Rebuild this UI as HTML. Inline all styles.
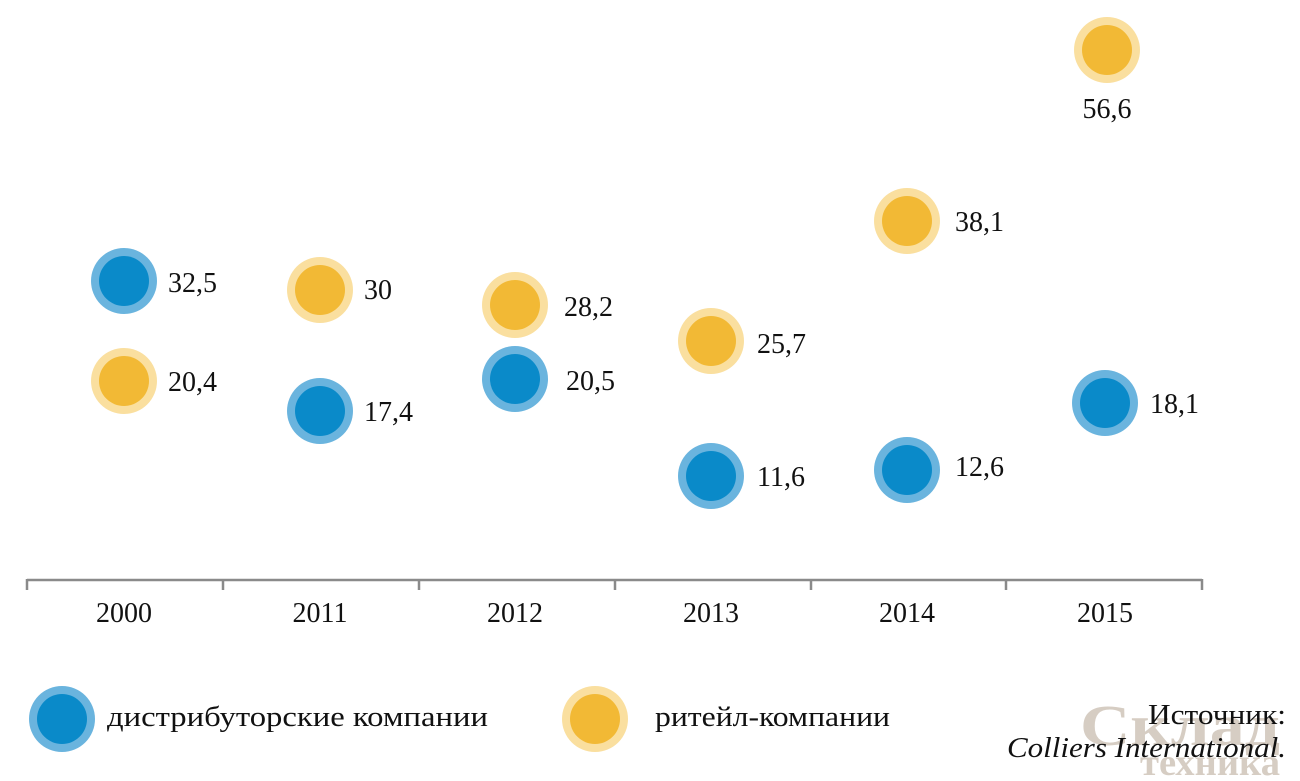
<!DOCTYPE html>
<html><head><meta charset="utf-8"><style>
html,body{margin:0;padding:0;background:#fff;}
svg text{font-family:"Liberation Serif","DejaVu Serif",serif;fill:#111;}
</style></head><body>
<svg width="1300" height="776" viewBox="0 0 1300 776" xmlns="http://www.w3.org/2000/svg">
<defs>
<g id="b"><circle r="33" fill="#6ab4de"/><circle r="25" fill="#0a8ac9"/></g>
<g id="y"><circle r="33" fill="#fadf9f"/><circle r="25" fill="#f2b935"/></g>
</defs>
<g stroke="#8a8a8a" stroke-width="2.5" fill="none">
<line x1="27" y1="580" x2="1202" y2="580"/>
<line x1="27" y1="579" x2="27" y2="590"/>
<line x1="223" y1="579" x2="223" y2="590"/>
<line x1="419" y1="579" x2="419" y2="590"/>
<line x1="615" y1="579" x2="615" y2="590"/>
<line x1="811" y1="579" x2="811" y2="590"/>
<line x1="1006" y1="579" x2="1006" y2="590"/>
<line x1="1202" y1="579" x2="1202" y2="590"/>
</g>
<g font-size="28" text-anchor="middle">
<text x="124" y="622">2000</text>
<text x="320" y="622">2011</text>
<text x="515" y="622">2012</text>
<text x="711" y="622">2013</text>
<text x="907" y="622">2014</text>
<text x="1105" y="622">2015</text>
</g>
<use href="#b" x="124" y="281"/><use href="#y" x="124" y="381"/>
<use href="#y" x="320" y="290"/><use href="#b" x="320" y="411"/>
<use href="#y" x="515" y="305"/><use href="#b" x="515" y="379"/>
<use href="#y" x="711" y="341"/><use href="#b" x="711" y="476"/>
<use href="#y" x="907" y="221"/><use href="#b" x="907" y="470"/>
<use href="#y" x="1107" y="50"/><use href="#b" x="1105" y="403"/>
<g font-size="28">
<text x="168" y="292">32,5</text>
<text x="168" y="391">20,4</text>
<text x="364" y="299">30</text>
<text x="364" y="421">17,4</text>
<text x="564" y="316">28,2</text>
<text x="566" y="390">20,5</text>
<text x="757" y="353">25,7</text>
<text x="757" y="486">11,6</text>
<text x="955" y="231">38,1</text>
<text x="955" y="476">12,6</text>
<text x="1150" y="413">18,1</text>
<text x="1107" y="118" text-anchor="middle">56,6</text>
</g>
<use href="#b" x="62" y="719"/>
<text x="107" y="726" font-size="28" textLength="381" lengthAdjust="spacingAndGlyphs">дистрибуторские компании</text>
<use href="#y" x="595" y="719"/>
<text x="655" y="726" font-size="28" textLength="235" lengthAdjust="spacingAndGlyphs">ритейл-компании</text>
<text x="1080" y="745" font-family="Liberation Sans,sans-serif" font-weight="bold" font-size="58" textLength="200" lengthAdjust="spacingAndGlyphs" style="fill:#d6cdc3">Склад</text>
<text x="1140" y="775" font-family="Liberation Sans,sans-serif" font-weight="bold" font-size="38" textLength="140" lengthAdjust="spacingAndGlyphs" style="fill:#d6cdc3">техника</text>
<text x="1148" y="724" font-size="28" textLength="138" lengthAdjust="spacingAndGlyphs">Источник:</text>
<text x="1007" y="757" font-size="28" font-style="italic" textLength="279" lengthAdjust="spacingAndGlyphs">Colliers International.</text>
</svg>
</body></html>
